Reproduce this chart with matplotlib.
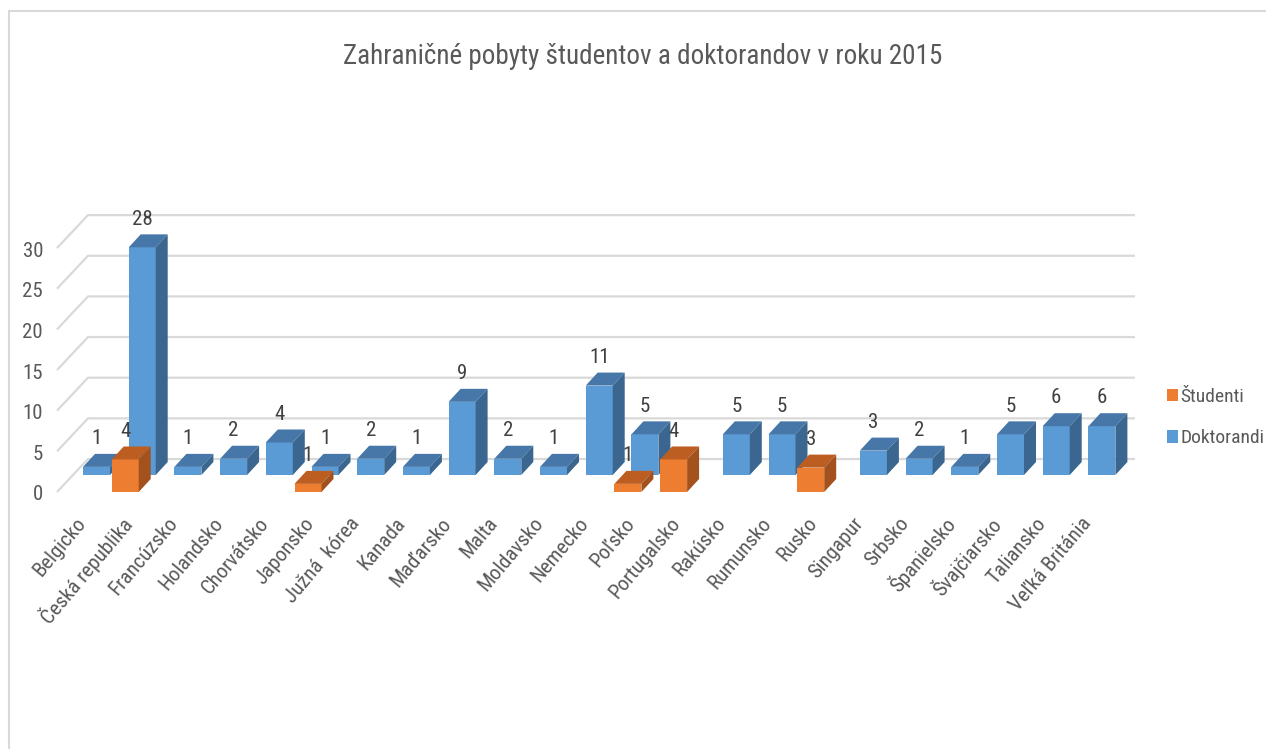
import matplotlib
matplotlib.use("Agg")
import matplotlib.pyplot as plt
from matplotlib.patches import Polygon, Patch, Rectangle
from matplotlib import font_manager
import numpy as np

# ---------------- data ----------------
categories = ["Belgicko", "Česká republika", "Francúzsko", "Holandsko", "Chorvátsko",
              "Japonsko", "Južná  kórea", "Kanada", "Maďarsko", "Malta", "Moldavsko",
              "Nemecko", "Poľsko", "Portugalsko", "Rakúsko", "Rumunsko", "Rusko",
              "Singapur", "Srbsko", "Španielsko", "Švajčiarsko", "Taliansko", "Veľká Británia"]
doktorandi = [1, 28, 1, 2, 4, 1, 2, 1, 9, 2, 1, 11, 5, None, 5, 5, None, 3, 2, 1, 5, 6, 6]
studenti = [None, 4, None, None, None, 1, None, None, None, None, None, None, 1, 4,
            None, None, 3, None, None, None, None, None, None]
series_names = ["Študenti", "Doktorandi"]
title = "Zahraničné pobyty študentov a doktorandov v roku 2015"
y_ticks = [0, 5, 10, 15, 20, 25, 30]

# ---------------- fonts (prefer a narrow face, like Calibri) ----------------
ttf = font_manager.fontManager.ttflist
names = {f.name for f in ttf}
family, stretch = None, "normal"
for n in ["Liberation Sans Narrow", "Roboto Condensed", "Open Sans Condensed",
          "Noto Sans Condensed", "DejaVu Sans Condensed"]:
    if n in names:
        family = n
        break
if family is None:
    for pref in ["Noto Sans", "Open Sans", "Roboto", "DejaVu Sans", "Lato", "Inter"]:
        for f in ttf:
            if f.name == pref and f.stretch in ("condensed", "semi-condensed") and f.style == "normal":
                family, stretch = pref, f.stretch
                break
        if family:
            break
if family is None:
    family = "Liberation Sans"
plt.rcParams["font.family"] = [family, "DejaVu Sans"]
plt.rcParams["font.stretch"] = stretch
TXT = "#595959"

W, H = 1266, 749
fig = plt.figure(figsize=(W / 100, H / 100), dpi=100)

# pixel geometry of the (oblique) plot area
PX_CAT = 45.7      # pixels per category
PX_VAL = 8.13      # pixels per unit value
X0_PX = 79.5       # pixel x of category 0 centre (front row)
Y0_PX = 492.0      # pixel y of value 0 (front plane)
ax_left, ax_right, ax_top, ax_bottom = 52, 1150, 180, 500
ax = fig.add_axes([ax_left / W, 1 - ax_bottom / H, (ax_right - ax_left) / W, (ax_bottom - ax_top) / H])
ax.set_xlim((ax_left - X0_PX) / PX_CAT, (ax_right - X0_PX) / PX_CAT)
ax.set_ylim((Y0_PX - ax_bottom) / PX_VAL, (Y0_PX - ax_top) / PX_VAL)
ax.axis("off")

def cx(px):
    return px / PX_CAT

def cy(px):
    return px / PX_VAL

bar_w = cx(27)
bar_ddx, bar_ddy = cx(12), cy(13)
row_dx, row_dy = cx(17), cy(17)
wall_dx, wall_dy = cx(31), cy(33)
front_left = (57 - X0_PX) / PX_CAT
back_right = (1135 - X0_PX) / PX_CAT

# gridlines (side wall diagonal + back wall)
for v in y_ticks:
    ax.plot([front_left, front_left + wall_dx, back_right],
            [v, v + wall_dy, v + wall_dy], color="#d9d9d9", lw=1.6,
            solid_capstyle="butt", zorder=1, clip_on=False)

# y tick labels (front plane)
for v in y_ticks:
    ax.text(front_left - cx(14), v - cy(3), str(v), ha="right", va="center",
            fontsize=15, color=TXT, clip_on=False)

def draw_row(values, dx, dy, c_front, c_top, c_side, z):
    xs = np.arange(len(values))
    for i, v in zip(xs, values):
        if v is None:
            continue
        c = i + dx
        x0, x1 = c - bar_w / 2, c + bar_w / 2
        y0, y1 = dy, dy + v
        ax.bar(c, v, width=bar_w, bottom=y0, color=c_front, zorder=z, clip_on=False,
               linewidth=0)
        ax.add_patch(Polygon([(x0, y1), (x1, y1), (x1 + bar_ddx, y1 + bar_ddy),
                              (x0 + bar_ddx, y1 + bar_ddy)], closed=True,
                             facecolor=c_top, edgecolor="none", zorder=z, clip_on=False))
        ax.add_patch(Polygon([(x1, y0), (x1 + bar_ddx, y0 + bar_ddy),
                              (x1 + bar_ddx, y1 + bar_ddy), (x1, y1)], closed=True,
                             facecolor=c_side, edgecolor="none", zorder=z, clip_on=False))
        ax.annotate(str(v), xy=(c, y1 + bar_ddy), xytext=(0, 11),
                    textcoords="offset points", ha="center", va="center",
                    fontsize=15, color="#404040", zorder=z + 1, annotation_clip=False)

BLUE, BLUE_T, BLUE_S = "#5B9BD5", "#4677A8", "#3A6690"
ORNG, ORNG_T, ORNG_S = "#ED7D31", "#BC5E22", "#A3521D"
draw_row(doktorandi, row_dx, row_dy, BLUE, BLUE_T, BLUE_S, 3)
draw_row(studenti, 0.0, 0.0, ORNG, ORNG_T, ORNG_S, 5)

# category labels
for i, name in enumerate(categories):
    ax.text(i + cx(3), cy(-28), name, rotation=50, rotation_mode="anchor",
            ha="right", va="center", fontsize=15, color=TXT, clip_on=False)

# title
fig.text(643 / W, 1 - 57 / H, title, ha="center", va="center", fontsize=19.5, color=TXT)

# legend
handles = [Patch(facecolor=ORNG, edgecolor="none"), Patch(facecolor=BLUE, edgecolor="none")]
fig.legend(handles, series_names, loc="upper left", bbox_to_anchor=(1163 / W, 1 - 384 / H),
           frameon=False, fontsize=14, handlelength=0.55, handleheight=0.6,
           handletextpad=0.15, labelspacing=1.2, labelcolor=TXT, borderpad=0.2,
           borderaxespad=0)

# chart frame
fig.add_artist(Rectangle((9 / W, -0.1), 2, 1.1 - 11 / H, transform=fig.transFigure,
                         fill=False, edgecolor="#d9d9d9", lw=1.5))

fig.savefig("out.png", dpi=100)
